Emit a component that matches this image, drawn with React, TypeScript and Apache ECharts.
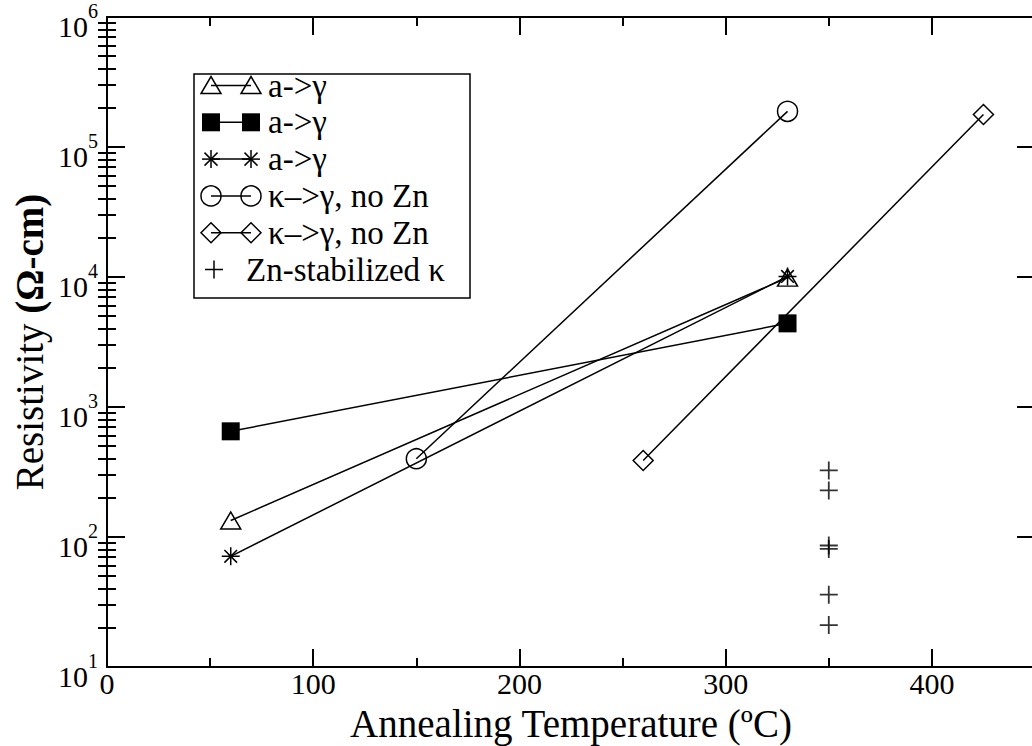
import React, { useEffect, useRef } from "react";
import * as echarts from "echarts";

// ---- data ----
const triTemp = [60, 330];
const triRes = [134, 9900];
const sqTemp = [60, 330];
const sqRes = [650, 4400];
const starTemp = [60, 330];
const starRes = [71, 10100];
const circTemp = [150, 330];
const circRes = [400, 188000];
const diaTemp = [260, 425];
const diaRes = [388, 178000];
const plusTemp = [350, 350, 350, 350, 350, 350];
const plusRes = [325, 228, 86, 81, 36, 21];

const seriesNames = [
  "a->γ",
  "a->γ",
  "a->γ",
  "κ–>γ, no Zn",
  "κ–>γ, no Zn",
  "Zn-stabilized κ",
];

const xMin = 0;
const xMax = 450;
const xInterval = 100;
const yMin = 10;
const yMax = 1e6;
const decades = [1, 2, 3, 4, 5];
const minorMultipliers = [2, 3, 4, 5, 6, 7, 8, 9];

const FONT = "Liberation Serif";
const STAR_PATH = "path://M0,-10L0,10M-10,0L10,0M-7,-7L7,7M-7,7L7,-7";
const PLUS_PATH = "path://M0,-10L0,10M-10,0L10,0";

function pairs(xs: number[], ys: number[]) {
  return xs.map((x, i) => [x, ys[i]]);
}

function buildLegend() {
  const bx = 194, by = 74, bw = 276, bh = 224;
  const y0 = 85.5, dy = 36.8;
  const x1 = 211, x2 = 251, tx = 268;
  const els: any[] = [
    {
      type: "rect",
      shape: { x: bx, y: by, width: bw, height: bh },
      style: { fill: "#fff", stroke: "#000", lineWidth: 1.5 },
      z: 10,
    },
  ];
  const stroke = { stroke: "#000", lineWidth: 1.5, fill: "none" };
  const sym = (kind: string, cx: number, cy: number) => {
    switch (kind) {
      case "tri":
        return [{ type: "polygon", shape: { points: [[cx - 10, cy + 8], [cx + 10, cy + 8], [cx, cy - 9]] }, style: { ...stroke }, z: 12 }];
      case "sq":
        return [{ type: "rect", shape: { x: cx - 9, y: cy - 9, width: 18, height: 18 }, style: { fill: "#000" }, z: 12 }];
      case "star":
        return [
          [0, -9, 0, 9], [-9, 0, 9, 0], [-6.5, -6.5, 6.5, 6.5], [-6.5, 6.5, 6.5, -6.5],
        ].map((l) => ({ type: "line", shape: { x1: cx + l[0], y1: cy + l[1], x2: cx + l[2], y2: cy + l[3] }, style: { ...stroke }, z: 12 }));
      case "circ":
        return [{ type: "circle", shape: { cx, cy, r: 10 }, style: { ...stroke }, z: 12 }];
      case "dia":
        return [{ type: "polygon", shape: { points: [[cx, cy - 10], [cx + 10, cy], [cx, cy + 10], [cx - 10, cy]] }, style: { ...stroke }, z: 12 }];
      case "plus":
        return [
          [0, -9, 0, 9], [-9, 0, 9, 0],
        ].map((l) => ({ type: "line", shape: { x1: cx + l[0], y1: cy + l[1], x2: cx + l[2], y2: cy + l[3] }, style: { ...stroke }, z: 12 }));
    }
    return [];
  };
  const kinds = ["tri", "sq", "star", "circ", "dia", "plus"];
  kinds.forEach((k, i) => {
    const cy = y0 + i * dy;
    if (k !== "plus") {
      els.push({ type: "line", shape: { x1: x1, y1: cy, x2: x2, y2: cy }, style: { stroke: "#000", lineWidth: 1.5 }, z: 11 });
      els.push(...sym(k, x1, cy));
      els.push(...sym(k, x2, cy));
    } else {
      els.push(...sym(k, 214, cy));
    }
    els.push({
      type: "text",
      x: k === "plus" ? 246 : tx,
      y: cy,
      style: {
        text: seriesNames[i],
        fontFamily: FONT,
        fontSize: 33,
        fill: "#000",
        verticalAlign: "middle",
        align: "left",
      },
      z: 12,
    });
  });
  return els;
}

export default function App() {
  const ref = useRef<HTMLDivElement>(null);
  useEffect(() => {
    if (!ref.current) return;
    const chart = echarts.init(ref.current, null, { renderer: "svg" });
    const minorVals: number[] = [];
    decades.forEach((d) => minorMultipliers.forEach((m) => minorVals.push(m * Math.pow(10, d))));

    const axisLine = { show: true, onZero: false, lineStyle: { color: "#000", width: 2 } };
    const tickStyle = { color: "#000", width: 2 };

    const xBase = {
      type: "value",
      min: xMin,
      max: xMax,
      interval: xInterval,
      axisLine,
      axisTick: { show: true, inside: true, length: 18, lineStyle: tickStyle },
      minorTick: { show: true, splitNumber: 2, length: 9, lineStyle: tickStyle },
      splitLine: { show: false },
      minorSplitLine: { show: false },
    };
    const yMajor = (pos: string) => ({
      type: "log",
      logBase: 10,
      min: yMin,
      max: yMax,
      position: pos,
      axisLine,
      axisTick: { show: true, inside: true, length: 18, lineStyle: tickStyle },
      splitLine: { show: false },
    });
    const yMinor = (pos: string) => ({
      type: "log",
      logBase: 10,
      min: yMin,
      max: yMax,
      position: pos,
      axisLine: { show: false },
      axisLabel: { show: false },
      axisTick: { show: true, inside: true, length: 9, lineStyle: tickStyle, customValues: minorVals },
      splitLine: { show: false },
    });

    const option: any = {
      animation: false,
      backgroundColor: "#fff",
      grid: {
        left: 107,
        top: 17,
        width: 928,
        height: 650,
        containLabel: false,
        outerBoundsMode: "none",
      },
      xAxis: [
        {
          ...xBase,
          position: "bottom",
          name: "Annealing Temperature (ºC)",
          nameLocation: "middle",
          nameGap: 36,
          nameMoveOverlap: false,
          nameTextStyle: { fontFamily: FONT, fontSize: 39, lineHeight: 40, color: "#000" },
          axisLabel: {
            show: true,
            showMaxLabel: false,
            fontFamily: FONT,
            fontSize: 30,
            lineHeight: 26,
            color: "#000",
            margin: 3,
          },
        },
        { ...xBase, position: "top", axisLabel: { show: false } },
      ],
      yAxis: [
        {
          ...yMajor("left"),
          name: "{n|Resistivity }{b|(Ω-cm)}",
          nameLocation: "middle",
          nameGap: 58,
          nameRotate: 90,
          nameMoveOverlap: false,
          nameTextStyle: {
            color: "#000",
            rich: {
              n: { fontFamily: FONT, fontSize: 39, color: "#000" },
              b: { fontFamily: FONT, fontSize: 39, fontWeight: "bold", color: "#000" },
            },
          },
          axisLabel: {
            show: true,
            margin: 9,
            padding: [8, 0, 0, 0],
            formatter: (v: number) => `{b|10}{s|${Math.round(Math.log10(v))}}`,
            rich: {
              b: { fontFamily: FONT, fontSize: 30, color: "#000", lineHeight: 40, verticalAlign: "bottom" },
              s: { fontFamily: FONT, fontSize: 20, color: "#000", lineHeight: 20, verticalAlign: "top" },
            },
          },
        },
        yMinor("left"),
        { ...yMajor("right"), axisLabel: { show: false } },
        yMinor("right"),
      ],
      graphic: buildLegend(),
      series: [
        {
          name: seriesNames[0],
          type: "line",
          data: pairs(triTemp, triRes),
          symbol: "triangle",
          symbolSize: [20, 17],
          lineStyle: { color: "#000", width: 1.5 },
          itemStyle: { color: "transparent", borderColor: "#000", borderWidth: 1.5 },
        },
        {
          name: seriesNames[1],
          type: "line",
          data: pairs(sqTemp, sqRes),
          symbol: "rect",
          symbolSize: 18,
          lineStyle: { color: "#000", width: 1.5 },
          itemStyle: { color: "#000", borderColor: "#000", borderWidth: 0 },
        },
        {
          name: seriesNames[2],
          type: "line",
          data: pairs(starTemp, starRes),
          symbol: STAR_PATH,
          symbolSize: 18,
          lineStyle: { color: "#000", width: 1.5 },
          itemStyle: { color: "transparent", borderColor: "#000", borderWidth: 1.5 },
        },
        {
          name: seriesNames[3],
          type: "line",
          data: pairs(circTemp, circRes),
          symbol: "circle",
          symbolSize: 20,
          lineStyle: { color: "#000", width: 1.5 },
          itemStyle: { color: "transparent", borderColor: "#000", borderWidth: 1.5 },
        },
        {
          name: seriesNames[4],
          type: "line",
          data: pairs(diaTemp, diaRes),
          symbol: "diamond",
          symbolSize: [20, 20],
          lineStyle: { color: "#000", width: 1.5 },
          itemStyle: { color: "transparent", borderColor: "#000", borderWidth: 1.5 },
        },
        {
          name: seriesNames[5],
          type: "scatter",
          data: pairs(plusTemp, plusRes),
          symbol: PLUS_PATH,
          symbolSize: 18,
          itemStyle: { color: "transparent", borderColor: "#000", borderWidth: 1.8 },
        },
      ],
    };
    chart.setOption(option);
    return () => chart.dispose();
  }, []);
  return (
    <div
      ref={ref}
      style={{ position: "absolute", left: 0, top: 0, width: 1032, height: 746, background: "#fff" }}
    />
  );
}
